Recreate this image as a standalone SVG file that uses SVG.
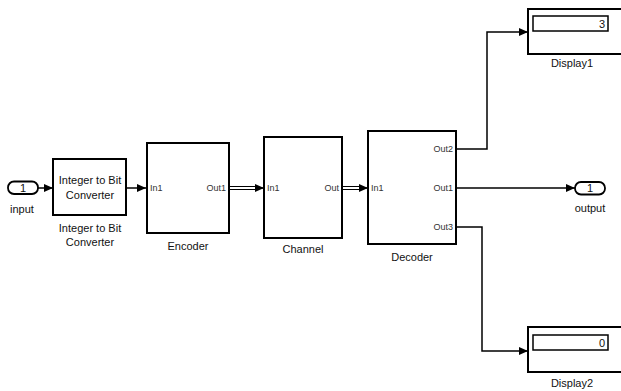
<svg xmlns="http://www.w3.org/2000/svg" width="621" height="391" viewBox="0 0 621 391">
<defs>
<style>
.blk{fill:#fff;stroke:#000;stroke-width:2}
.port{fill:#fff;stroke:#000;stroke-width:1.8}
.ln{fill:none;stroke:#000;stroke-width:1.5}
.t{font-family:"Liberation Sans",Arial,sans-serif;font-size:11px;fill:#111}
.pl{font-family:"Liberation Sans",Arial,sans-serif;font-size:9px;fill:#333}
.m{text-anchor:middle}
.e{text-anchor:end}
</style>
<marker id="ah" markerWidth="10" markerHeight="10" refX="9" refY="5" orient="auto" markerUnits="userSpaceOnUse">
<path d="M0,1 L9,5 L0,9 Z" fill="#000"/>
</marker>
</defs>
<rect width="621" height="391" fill="#fff"/>
<g id="connectors">
<path class="ln" d="M38,188 L53,188" marker-end="url(#ah)"/>
<path class="ln" d="M126,188 L146,188" marker-end="url(#ah)"/>
<path d="M229,188 L256,188" stroke="#000" stroke-width="4" fill="none"/>
<path d="M229,188 L256,188" stroke="#fff" stroke-width="2" fill="none"/>
<path class="ln" d="M255,188 L264,188" marker-end="url(#ah)"/>
<path d="M342,188 L360,188" stroke="#000" stroke-width="4" fill="none"/>
<path d="M342,188 L360,188" stroke="#fff" stroke-width="2" fill="none"/>
<path class="ln" d="M359,188 L368,188" marker-end="url(#ah)"/>
<path class="ln" d="M456,149 L487,149 L487,32 L528,32" marker-end="url(#ah)"/>
<path class="ln" d="M456,188 L575,188" marker-end="url(#ah)"/>
<path class="ln" d="M456,227 L482,227 L482,351 L528,351" marker-end="url(#ah)"/>
</g>
<g id="input">
<rect class="port" x="8" y="181.5" width="30" height="12.5" rx="6"/>
<text class="t m" x="23" y="192">1</text>
<text class="t m" x="22" y="213">input</text>
</g>
<g id="int2bit">
<rect class="blk" x="53" y="159" width="73" height="56"/>
<text class="t m" x="90" y="184">Integer to Bit</text>
<text class="t m" x="90" y="199">Converter</text>
<text class="t m" x="90" y="232">Integer to Bit</text>
<text class="t m" x="90" y="246">Converter</text>
</g>
<g id="encoder">
<rect class="blk" x="147" y="143" width="82" height="90"/>
<text class="pl" x="150" y="191">In1</text>
<text class="pl e" x="226" y="191">Out1</text>
<text class="t m" x="188" y="250">Encoder</text>
</g>
<g id="channel">
<rect class="blk" x="264" y="137" width="78" height="101"/>
<text class="pl" x="267" y="191">In1</text>
<text class="pl e" x="339" y="191">Out</text>
<text class="t m" x="303" y="253">Channel</text>
</g>
<g id="decoder">
<rect class="blk" x="368" y="131" width="88" height="113"/>
<text class="pl" x="371" y="191">In1</text>
<text class="pl e" x="453" y="152">Out2</text>
<text class="pl e" x="453" y="191">Out1</text>
<text class="pl e" x="453" y="230">Out3</text>
<text class="t m" x="412" y="261">Decoder</text>
</g>
<g id="display1">
<rect class="blk" x="528" y="9" width="96" height="45"/>
<rect fill="#fff" stroke="#000" stroke-width="1.5" x="533" y="16" width="75" height="15"/>
<text class="t e" x="605" y="28">3</text>
<text class="t m" x="572" y="67">Display1</text>
</g>
<g id="output">
<rect class="port" x="575" y="182" width="30" height="12.5" rx="6"/>
<text class="t m" x="590" y="192">1</text>
<text class="t m" x="590" y="212">output</text>
</g>
<g id="display2">
<rect class="blk" x="528" y="327" width="96" height="45"/>
<rect fill="#fff" stroke="#000" stroke-width="1.5" x="533" y="335" width="75" height="15"/>
<text class="t e" x="605" y="347">0</text>
<text class="t m" x="572" y="387">Display2</text>
</g>
</svg>
